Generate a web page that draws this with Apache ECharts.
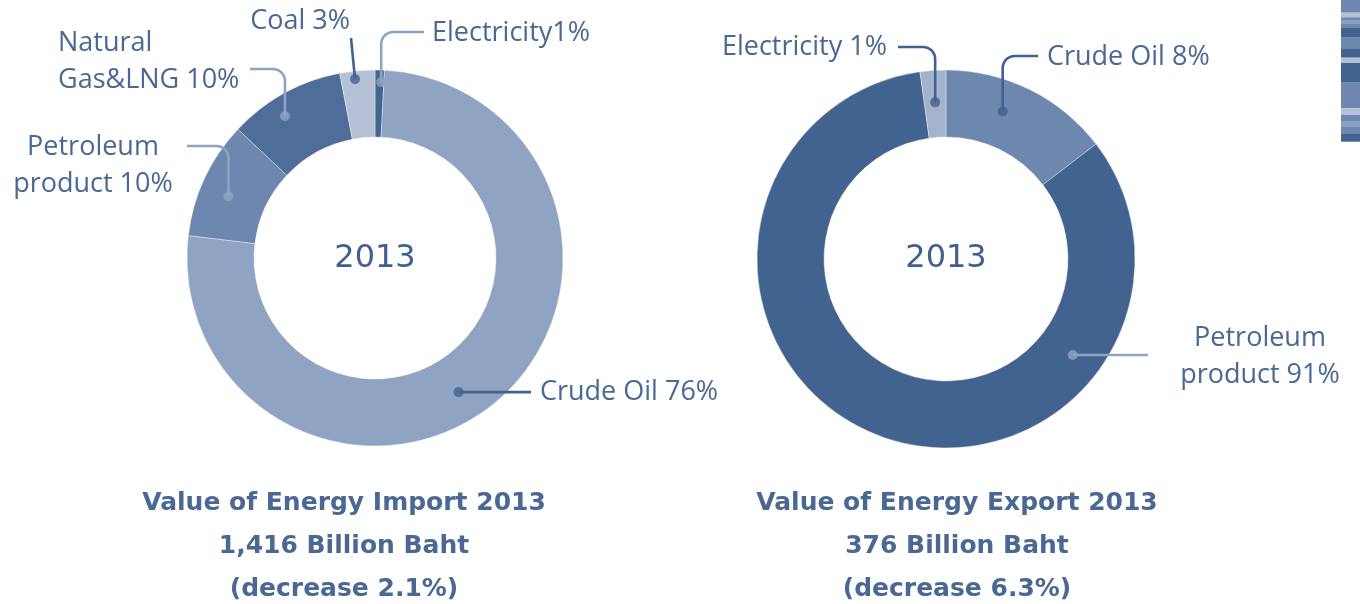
<!DOCTYPE html>
<html>
<head>
<meta charset="utf-8">
<script src="https://cdn.jsdelivr.net/npm/echarts@6/dist/echarts.min.js"></script>
<style>
  html, body { margin: 0; padding: 0; background: #fff; }
  #chart { width: 1360px; height: 604px; }
</style>
</head>
<body>
<div id="chart"></div>
<script>
// slice sizes as drawn, clockwise from 12 o'clock
var importNames = ["Electricity", "Crude Oil", "Petroleum product", "Natural Gas&LNG", "Coal"];
var importValues = [0.8, 76.1, 10.1, 10.0, 3.0];
var importLabels = ["Electricity1%", "Crude Oil 76%", "Petroleum\nproduct 10%", "Natural\nGas&LNG 10%", "Coal 3%"];

var exportNames = ["Crude Oil", "Petroleum product", "Electricity"];
var exportValues = [14.6, 83.2, 2.2];
var exportLabels = ["Crude Oil 8%", "Petroleum\nproduct 91%", "Electricity 1%"];

var yearText = "2013";
var importCaption = ["Value of Energy Import 2013", "1,416 Billion Baht", "(decrease 2.1%)"];
var exportCaption = ["Value of Energy Export 2013", "376 Billion Baht", "(decrease 6.3%)"];

var DARK = "#41628f";
var LIGHT = "#8fa3c3";
var TEXT = "#4a6893";
var FONT = "'Open Sans', 'Noto Sans', sans-serif";

// layout of the two donuts and their leader lines
var importPie = {
  center: [375, 258], radius: [121, 188],
  colors: ["#456591", "#8fa3c3", "#6d87af", "#4f6d99", "#b4c1d7"],
  guides: [
    { at: 0.7, r: 176, type: "v", lineY: 32, endX: 424, labelX: 432, labelY: 33, align: "left", color: LIGHT },
    { at: 0.53, r: 158, type: "h", endX: 531, labelX: 540, align: "left", color: DARK },
    { at: 0.44, r: 159, type: "v", lineY: 146, endX: 187, labelX: 93, labelY: 166, align: "center", color: LIGHT },
    { at: 0.40, r: 168, type: "v", lineY: 69, endX: 250, labelX: 58, labelY: 62, align: "left", color: LIGHT },
    { at: 0.41, r: 180, type: "s", endX: 351, endY: 38, labelX: 350, labelY: 21, align: "right", color: DARK }
  ]
};
var exportPie = {
  center: [946, 259], radius: [122, 189],
  colors: ["#6d87af", "#42638f", "#a3b3ce"],
  guides: [
    { at: 0.40, r: 158, type: "v", lineY: 56, endX: 1038, labelX: 1047, labelY: 57, align: "left", color: DARK },
    { at: 0.249, r: 159, type: "h", endX: 1148, labelX: 1260, labelY: 357, align: "center", color: LIGHT },
    { at: 0.5, r: 157, type: "v", lineY: 47, endX: 898, labelX: 887, labelY: 47, align: "right", color: DARK }
  ]
};

function toXY(c, r, deg) {
  var a = deg * Math.PI / 180;
  return [c[0] + r * Math.sin(a), c[1] - r * Math.cos(a)];
}

// anchor angle of each guide comes from the slice it points at
function buildGuides(pie, values) {
  var total = values.reduce(function (s, v) { return s + v; }, 0);
  var acc = 0;
  var R = 12;
  pie.guides.forEach(function (g, i) {
    var a0 = acc / total * 360;
    acc += values[i];
    var a1 = acc / total * 360;
    g.angle = a0 + g.at * (a1 - a0);
    var d = toXY(pie.center, g.r, g.angle);
    var pts = [d];
    if (g.type === "h") {
      g.labelY = g.labelY || d[1];
      pts.push([g.endX, d[1]]);
    } else if (g.type === "s") {
      pts.push([g.endX, g.endY]);
    } else {
      var dir = g.endX > d[0] ? 1 : -1;
      var cx = d[0] + dir * R, cy = g.lineY + R;
      for (var k = 0; k <= 8; k++) {
        var t = k / 8 * Math.PI / 2;
        pts.push([cx - dir * R * Math.cos(t), cy - R * Math.sin(t)]);
      }
      pts.push([g.endX, g.lineY]);
    }
    g.points = pts;
  });
}

buildGuides(importPie, importValues);
buildGuides(exportPie, exportValues);

function pieSeries(pie, names, values, labels) {
  return {
    type: "pie",
    center: pie.center,
    radius: pie.radius,
    startAngle: 90,
    clockwise: true,
    avoidLabelOverlap: false,
    silent: true,
    itemStyle: { borderColor: "rgba(255,255,255,0.6)", borderWidth: 0.6 },
    label: {
      show: true,
      position: "outside",
      color: TEXT,
      fontFamily: FONT,
      fontSize: 27,
      lineHeight: 37,
      formatter: function (p) { return labels[p.dataIndex]; }
    },
    labelLine: { show: false },
    labelLayout: function (p) {
      var g = pie.guides[p.dataIndex];
      return { x: g.labelX, y: g.labelY, align: g.align, verticalAlign: "middle" };
    },
    data: names.map(function (n, i) {
      return { name: n, value: values[i], itemStyle: { color: pie.colors[i] } };
    })
  };
}

function dotSeries(pie, polarIndex) {
  return {
    type: "scatter",
    coordinateSystem: "polar",
    polarIndex: polarIndex,
    symbolSize: 10,
    z: 5,
    silent: true,
    data: pie.guides.map(function (g) {
      return { value: [g.r, g.angle], itemStyle: { color: g.color } };
    })
  };
}

function guideLines(pie) {
  return pie.guides.map(function (g) {
    return {
      type: "polyline", z: 4, silent: true,
      shape: { points: g.points },
      style: { stroke: g.color, lineWidth: 2.6, fill: null, lineJoin: "round" }
    };
  });
}

function polarOf(pie) {
  return { center: pie.center, radius: pie.radius[1] };
}

function captionText(x, lines) {
  return lines.map(function (t, i) {
    return {
      type: "text", x: x, y: 503 + i * 43, z: 10,
      style: {
        text: t, fill: TEXT, font: "bold 25px 'DejaVu Sans', sans-serif",
        textAlign: "center", textVerticalAlign: "middle"
      }
    };
  });
}

// decorative striped tab at the top right corner
var stripeColors = ["#6d87af", "#b4c1d7", "#6d87af", "#8a9fc1", "#6d87af", "#42638f", "#6d87af", "#42638f",
  "#b4c1d7", "#42638f", "#6d87af", "#b4c1d7", "#6d87af", "#8a9fc1", "#6d87af", "#42638f"];
var stripeEdges = [0, 12.7, 17.3, 20, 24, 27.3, 37.7, 49, 57.7, 63, 82.7, 108.3, 115, 121, 127, 134, 141.7];
var stripes = stripeColors.map(function (c, i) {
  return {
    type: "rect", z: 1,
    shape: { x: 1341, y: stripeEdges[i], width: 19, height: stripeEdges[i + 1] - stripeEdges[i] },
    style: { fill: c }
  };
});

var chart = echarts.init(document.getElementById("chart"));
chart.setOption({
  backgroundColor: "#fff",
  animation: false,
  polar: [polarOf(importPie), polarOf(exportPie)],
  angleAxis: [
    { polarIndex: 0, type: "value", min: 0, max: 360, startAngle: 90, clockwise: true, show: false },
    { polarIndex: 1, type: "value", min: 0, max: 360, startAngle: 90, clockwise: true, show: false }
  ],
  radiusAxis: [
    { polarIndex: 0, type: "value", min: 0, max: importPie.radius[1], show: false },
    { polarIndex: 1, type: "value", min: 0, max: exportPie.radius[1], show: false }
  ],
  graphic: [
    {
      type: "text", x: importPie.center[0], y: importPie.center[1] + 1, z: 10,
      style: { text: yearText, fill: "#3f5f8f", font: "32px 'DejaVu Sans'", textAlign: "center", textVerticalAlign: "middle" }
    },
    {
      type: "text", x: exportPie.center[0], y: exportPie.center[1], z: 10,
      style: { text: yearText, fill: "#3f5f8f", font: "32px 'DejaVu Sans'", textAlign: "center", textVerticalAlign: "middle" }
    }
  ].concat(guideLines(importPie), guideLines(exportPie),
    captionText(344, importCaption), captionText(957, exportCaption), stripes),
  series: [
    pieSeries(importPie, importNames, importValues, importLabels),
    pieSeries(exportPie, exportNames, exportValues, exportLabels),
    dotSeries(importPie, 0),
    dotSeries(exportPie, 1)
  ]
});
</script>
</body>
</html>
